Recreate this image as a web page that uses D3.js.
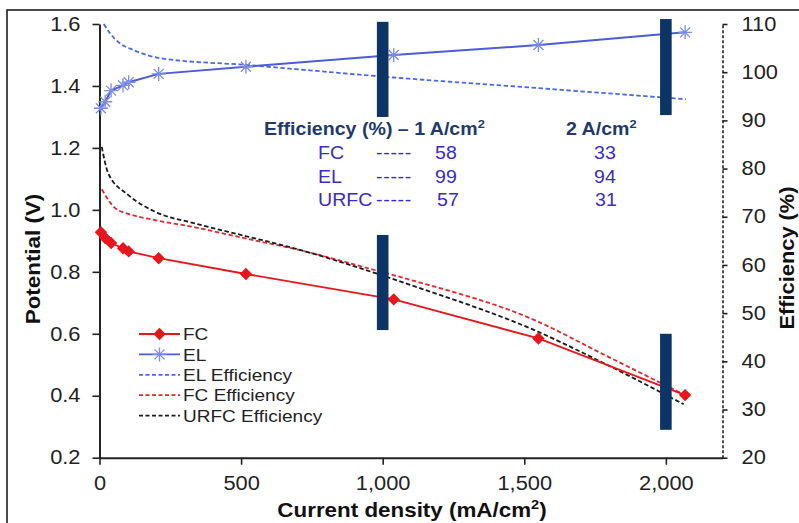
<!DOCTYPE html>
<html>
<head>
<meta charset="utf-8">
<script src="https://cdn.jsdelivr.net/npm/d3@7"></script>
<style>
  html, body { margin: 0; padding: 0; background: #fff; }
  svg { display: block; font-family: "Liberation Sans", Arial, sans-serif; }
</style>
</head>
<body>
<svg id="chart" width="799" height="523"></svg>
<script>
// ---------------- DATA ----------------
const currentDensity = [5, 20, 41, 83, 103, 209, 517, 1039, 1550, 2068];
const fcPotential = [0.928, 0.909, 0.893, 0.876, 0.866, 0.844, 0.793, 0.711, 0.585, 0.402];
const elPotential = [1.328, 1.349, 1.385, 1.402, 1.412, 1.439, 1.462, 1.500, 1.532, 1.573];

const elEffX = [15, 37, 72, 120, 214, 518, 1039, 1547, 2071];
const elEff = [110.0, 108.1, 106.0, 104.6, 102.9, 101.5, 98.9, 96.7, 94.4];
const fcEffX = [8, 55, 102, 196, 338, 515, 691, 974, 1080, 1550, 1771, 2068];
const fcEff = [75.7, 71.8, 70.6, 69.3, 67.8, 65.5, 63.3, 58.9, 57.2, 48.2, 41.7, 33.0];
const urfcEffX = [8, 31, 102, 196, 338, 515, 691, 974, 1080, 1550, 1771, 2063];
const urfcEff = [84.5, 79.0, 74.5, 71.05, 68.6, 66.0, 63.4, 58.3, 56.2, 46.1, 39.9, 31.1];

// marker bars at 1 and 2 A/cm2 (x in mA/cm2, y in V)
const barX = [1000, 1000, 2000, 2000];
const barLow = [1.30, 0.612, 1.306, 0.29];
const barHigh = [1.607, 0.919, 1.616, 0.60];

const xTicks = [0, 500, 1000, 1500, 2000];
const yLeftTicks = [0.2, 0.4, 0.6, 0.8, 1.0, 1.2, 1.4, 1.6];
const yRightTicks = [20, 30, 40, 50, 60, 70, 80, 90, 100, 110];

const legendLabels = ["FC", "EL", "EL Efficiency", "FC Efficiency", "URFC Efficiency"];
const tableRows = ["FC", "EL", "URFC"];
const tableAt1 = ["58", "99", "57"];
const tableAt2 = ["33", "94", "31"];

// ---------------- STYLE ----------------
const SX = 1.12;
const RED = "#E8161C", BLUE = "#4B5BDA", STAR = "#7B8BE6",
      BLUE_D = "#4A6ADF", RED_D = "#E0282E", BLACK_D = "#1a1a1a",
      NAVY = "#0C3565", HEAD = "#1F3A6B", TBL = "#3A2CC4";

const svg = d3.select("#chart");
svg.append("rect").attr("width", 799).attr("height", 523).attr("fill", "#fff");
svg.append("rect").attr("x", 7).attr("y", 10).attr("width", 900).attr("height", 600)
  .attr("fill", "none").attr("stroke", "#111").attr("stroke-width", 1.5);

const x = d3.scaleLinear().domain([0, 2200]).range([99.5, 722.5]);
const yL = d3.scaleLinear().domain([0.2, 1.6]).range([457.7, 24]);
const yR = d3.scaleLinear().domain([20, 110]).range([457.7, 24]);

function stretchTicks(g) {
  g.selectAll(".tick text").each(function () {
    const t = d3.select(this);
    const tx = +t.attr("x") || 0, ty = +t.attr("y") || 0;
    t.attr("x", 0).attr("y", 0).attr("transform", `translate(${tx},${ty}) scale(${SX},1)`);
  });
}
function styleAxis(g) {
  g.selectAll("text").attr("font-size", 19.5).attr("fill", "#222")
    .attr("font-family", '"Liberation Sans", Arial, sans-serif');
  g.selectAll("line").attr("stroke", "#222").attr("stroke-width", 1.6);
  g.select(".domain").attr("stroke", "#222").attr("stroke-width", 2);
}

// X axis
const gx = svg.append("g").attr("transform", `translate(0,${yL(0.2)})`)
  .call(d3.axisBottom(x).tickValues(xTicks).tickFormat(d3.format(",")).tickSize(7).tickSizeOuter(0).tickPadding(11));
styleAxis(gx); stretchTicks(gx);

// Left axis
const gl = svg.append("g").attr("transform", `translate(${x(0)},0)`)
  .call(d3.axisLeft(yL).tickValues(yLeftTicks).tickFormat(d3.format(".1f")).tickSize(7).tickSizeOuter(0).tickPadding(12));
styleAxis(gl); stretchTicks(gl);

// Right axis (dashed)
const gr = svg.append("g").attr("transform", `translate(${x(2200)},0)`)
  .call(d3.axisRight(yR).tickValues(yRightTicks).tickSize(5).tickSizeOuter(0).tickPadding(14));
styleAxis(gr); stretchTicks(gr);
gr.select(".domain").attr("stroke-dasharray", "3,2").attr("stroke-width", 1.6);

// Axis titles
svg.append("text").attr("transform", `translate(412,517) scale(${SX},1)`)
  .attr("text-anchor", "middle").attr("font-weight", "bold").attr("font-size", 20).attr("fill", "#111")
  .call(t => { t.append("tspan").text("Current density (mA/cm");
               t.append("tspan").attr("font-size", 13).attr("dy", -8).text("2");
               t.append("tspan").attr("dy", 8).text(")"); });
svg.append("text").attr("transform", `translate(40,259) rotate(-90) scale(${SX},1)`)
  .attr("text-anchor", "middle").attr("font-weight", "bold").attr("font-size", 20).attr("fill", "#111")
  .text("Potential (V)");
svg.append("text").attr("transform", `translate(794,258) rotate(-90) scale(${SX},1)`)
  .attr("text-anchor", "middle").attr("font-weight", "bold").attr("font-size", 19.5).attr("fill", "#111")
  .text("Efficiency (%)");

// Efficiency dashed curves
const effLine = d3.line().x(d => x(d[0])).y(d => yR(d[1])).curve(d3.curveMonotoneX);
const DASH = "4.5,2.5";
svg.append("path").datum(d3.zip(elEffX, elEff)).attr("d", effLine)
  .attr("fill", "none").attr("stroke", BLUE_D).attr("stroke-width", 1.8).attr("stroke-dasharray", DASH);
svg.append("path").datum(d3.zip(fcEffX, fcEff)).attr("d", effLine)
  .attr("fill", "none").attr("stroke", RED_D).attr("stroke-width", 1.8).attr("stroke-dasharray", DASH);
svg.append("path").datum(d3.zip(urfcEffX, urfcEff)).attr("d", effLine)
  .attr("fill", "none").attr("stroke", BLACK_D).attr("stroke-width", 1.8).attr("stroke-dasharray", DASH);

// FC and EL lines
const vLine = d3.line().x(d => x(d[0])).y(d => yL(d[1]));
svg.append("path").datum(d3.zip(currentDensity, fcPotential)).attr("d", vLine)
  .attr("fill", "none").attr("stroke", RED).attr("stroke-width", 1.8);
svg.append("path").datum(d3.zip(currentDensity, elPotential)).attr("d", vLine)
  .attr("fill", "none").attr("stroke", BLUE).attr("stroke-width", 2);

const diamond = "M0,-6.2L6.2,0L0,6.2L-6.2,0Z";
const star = "M-7,0H7M0,-7V7M-5,-5L5,5M-5,5L5,-5";

svg.append("g").selectAll("path").data(d3.zip(currentDensity, fcPotential)).join("path")
  .attr("transform", d => `translate(${x(d[0])},${yL(d[1])})`)
  .attr("d", diamond).attr("fill", RED);
svg.append("g").selectAll("path").data(d3.zip(currentDensity, elPotential)).join("path")
  .attr("transform", d => `translate(${x(d[0])},${yL(d[1])})`)
  .attr("d", star).attr("fill", "none").attr("stroke", STAR).attr("stroke-width", 1.3);

// Bars
svg.append("g").selectAll("rect").data(d3.range(barX.length)).join("rect")
  .attr("x", i => x(barX[i]) - 5.8).attr("width", 11.6)
  .attr("y", i => yL(barHigh[i])).attr("height", i => yL(barLow[i]) - yL(barHigh[i]))
  .attr("fill", NAVY);

// Efficiency table
const head = svg.append("text").attr("transform", `translate(264,135) scale(${SX},1)`)
  .attr("font-weight", "bold").attr("font-size", 17.5).attr("fill", HEAD);
head.append("tspan").text("Efficiency (%) \u2013 1 A/cm");
head.append("tspan").attr("font-size", 11.5).attr("dy", -7).text("2");
const head2 = svg.append("text").attr("transform", `translate(566,135) scale(${SX},1)`)
  .attr("font-weight", "bold").attr("font-size", 17.5).attr("fill", HEAD);
head2.append("tspan").text("2 A/cm");
head2.append("tspan").attr("font-size", 11.5).attr("dy", -7).text("2");

tableRows.forEach((r, i) => {
  const by = 159 + i * 23.5;
  const t = (tx, s, ls) => svg.append("text").attr("transform", `translate(${tx},${by}) scale(${SX},1)`)
    .attr("font-size", 17.5).attr("fill", TBL).attr("letter-spacing", ls || 0).text(s);
  t(318, r);
  t(376, "-----", 0.6);
  t(i === 2 ? 437 : 435, tableAt1[i]);
  t(i === 2 ? 595 : 594, tableAt2[i]);
});

// Legend
const legColors = [RED, BLUE, BLUE_D, RED_D, BLACK_D];
legendLabels.forEach((lab, i) => {
  const ly = 334 + i * 20.4;
  const g = svg.append("g");
  g.append("line").attr("x1", 139).attr("x2", 180).attr("y1", ly).attr("y2", ly)
    .attr("stroke", legColors[i]).attr("stroke-width", 1.8)
    .attr("stroke-dasharray", i < 2 ? null : "4,2.5");
  if (i === 0) g.append("path").attr("transform", `translate(159.5,${ly})`).attr("d", diamond).attr("fill", RED);
  if (i === 1) g.append("path").attr("transform", `translate(159.5,${ly})`).attr("d", star)
    .attr("fill", "none").attr("stroke", STAR).attr("stroke-width", 1.3);
  g.append("text").attr("transform", `translate(183,${ly}) scale(${SX},1)`)
    .attr("dy", "0.36em").attr("font-size", 17).attr("fill", "#222").text(lab);
});
</script>
</body>
</html>
